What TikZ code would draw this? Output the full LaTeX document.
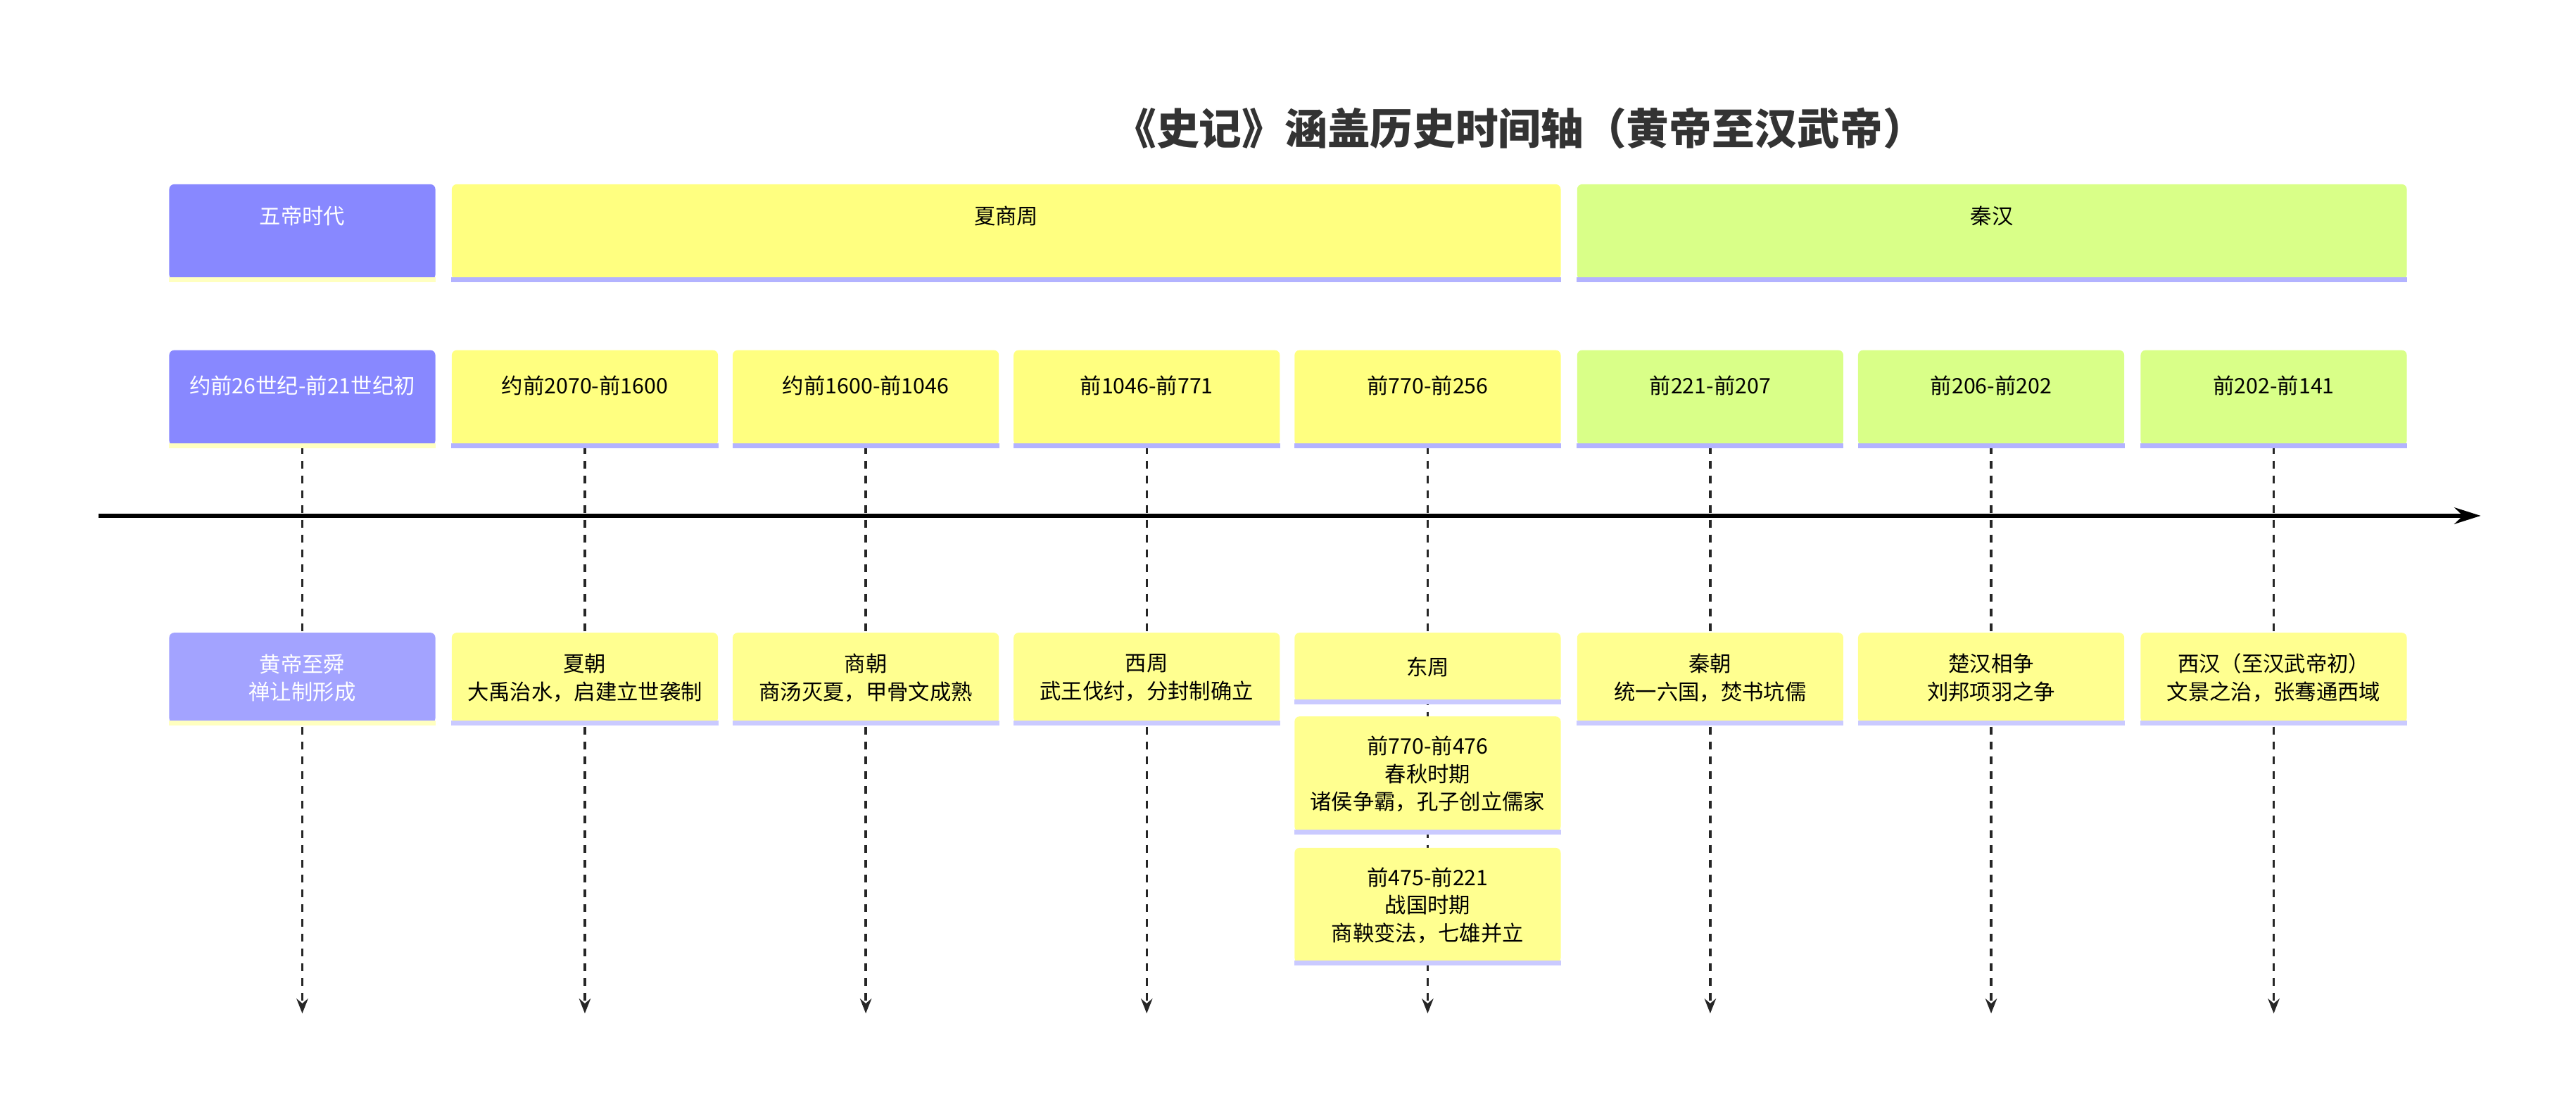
\documentclass[tikz,border=0pt]{standalone}
\usepackage{fontspec}
\setmainfont{Noto Sans CJK SC}
\usetikzlibrary{positioning,backgrounds,arrows.meta}

\definecolor{wudi}{HTML}{8888FF}
\definecolor{wudiev}{HTML}{A3A3FF}
\definecolor{xsz}{HTML}{FFFF80}
\definecolor{xszev}{HTML}{FFFF90}
\definecolor{qinhan}{HTML}{D9FF88}
\definecolor{qhev}{HTML}{FFFF99}
\definecolor{stripA}{HTML}{B3B3FF}
\definecolor{stripB}{HTML}{FFFFC0}

\tikzset{
  box/.style={rounded corners=3pt, inner sep=2pt, align=center,
    font=\fontsize{13}{17}\selectfont, minimum width=162pt},
  strip/.style={line width=3pt},
  stem/.style={dash pattern=on 5pt off 4pt, line width=1.5pt, -{Stealth[length=9pt,width=7pt]}, black!85},
}

\begin{document}
\begin{tikzpicture}[x=1pt,y=-1pt]
\useasboundingbox (0,0) rectangle (1568,675);

\node[font=\fontsize{26}{30}\selectfont\bfseries, text=black!80] (title) at (925,78) {《史记》涵盖历史时间轴（黄帝至汉武帝）};

% sections
\node[box, fill=wudi, text=white, minimum width=162pt, minimum height=58pt, anchor=north, yshift=0pt] (s1) at (184,112) {};
\node[anchor=north, text=white, font=\fontsize{13}{17}\selectfont] at (184,122) {五帝时代};
\node[box, fill=xsz, minimum width=675pt, minimum height=58pt, anchor=north] (s2) at (612.5,112) {};
\node[anchor=north, font=\fontsize{13}{17}\selectfont] at (612.5,122) {夏商周};
\node[box, fill=qinhan, minimum width=505pt, minimum height=58pt, anchor=north] (s3) at (1212.5,112) {};
\node[anchor=north, font=\fontsize{13}{17}\selectfont] at (1212.5,122) {秦汉};
\draw[strip, stripB] (s1.south west) -- (s1.south east);
\draw[strip, stripA] (s2.south west) -- (s2.south east);
\draw[strip, stripA] (s3.south west) -- (s3.south east);

% axis
\coordinate (ax0) at (60,314);
\coordinate (ax1) at (1510,314);
\draw[line width=2.5pt, -{Stealth[length=16pt,width=10pt]}] (ax0) -- (ax1);

% periods
\foreach \i/\x/\col/\tcol/\sc/\txt in {
  1/184/wudi/white/stripB/约前26世纪-前21世纪初,
  2/356/xsz/black/stripA/约前2070-前1600,
  3/527/xsz/black/stripA/约前1600-前1046,
  4/698/xsz/black/stripA/前1046-前771,
  5/869/xsz/black/stripA/前770-前256,
  6/1041/qinhan/black/stripA/前221-前207,
  7/1212/qinhan/black/stripA/前206-前202,
  8/1384/qinhan/black/stripA/前202-前141}{
  \node[box, fill=\col, minimum height=58pt, anchor=north] (p\i) at (\x,213) {};
  \node[anchor=north, text=\tcol, font=\fontsize{13}{17}\selectfont] at (\x,225) {\txt};
  \draw[strip, \sc] (p\i.south west) -- (p\i.south east);
  \coordinate (e\i) at (\x,617);
  \begin{scope}[on background layer]
    \draw[stem] (p\i.south) -- (e\i);
  \end{scope}
}

% events
\node[box, fill=wudiev, text=white, minimum height=55pt, anchor=north] (v1) at (184,385) {黄帝至舜\\禅让制形成};
\node[box, fill=xszev, minimum height=55pt, anchor=north] (v2) at (356,385) {夏朝\\大禹治水，启建立世袭制};
\node[box, fill=xszev, minimum height=55pt, anchor=north] (v3) at (527,385) {商朝\\商汤灭夏，甲骨文成熟};
\node[box, fill=xszev, minimum height=55pt, anchor=north] (v4) at (698,385) {西周\\武王伐纣，分封制确立};
\node[box, fill=xszev, minimum height=42pt, anchor=north] (v5) at (869,385) {东周};
\node[box, fill=xszev, minimum height=70pt, anchor=north] (v5a) at (869,436) {前770-前476\\春秋时期\\诸侯争霸，孔子创立儒家};
\node[box, fill=xszev, minimum height=70pt, anchor=north] (v5b) at (869,516) {前475-前221\\战国时期\\商鞅变法，七雄并立};
\node[box, fill=xszev, minimum height=55pt, anchor=north] (v6) at (1041,385) {秦朝\\统一六国，焚书坑儒};
\node[box, fill=xszev, minimum height=55pt, anchor=north] (v7) at (1212,385) {楚汉相争\\刘邦项羽之争};
\node[box, fill=xszev, minimum height=55pt, anchor=north] (v8) at (1384,385) {西汉（至汉武帝初）\\文景之治，张骞通西域};
\draw[strip, stripB] (v1.south west) -- (v1.south east);
\foreach \n in {v2,v3,v4,v5,v5a,v5b,v6,v7,v8}
  \draw[strip, stripA!70] (\n.south west) -- (\n.south east);
\end{tikzpicture}
\end{document}
